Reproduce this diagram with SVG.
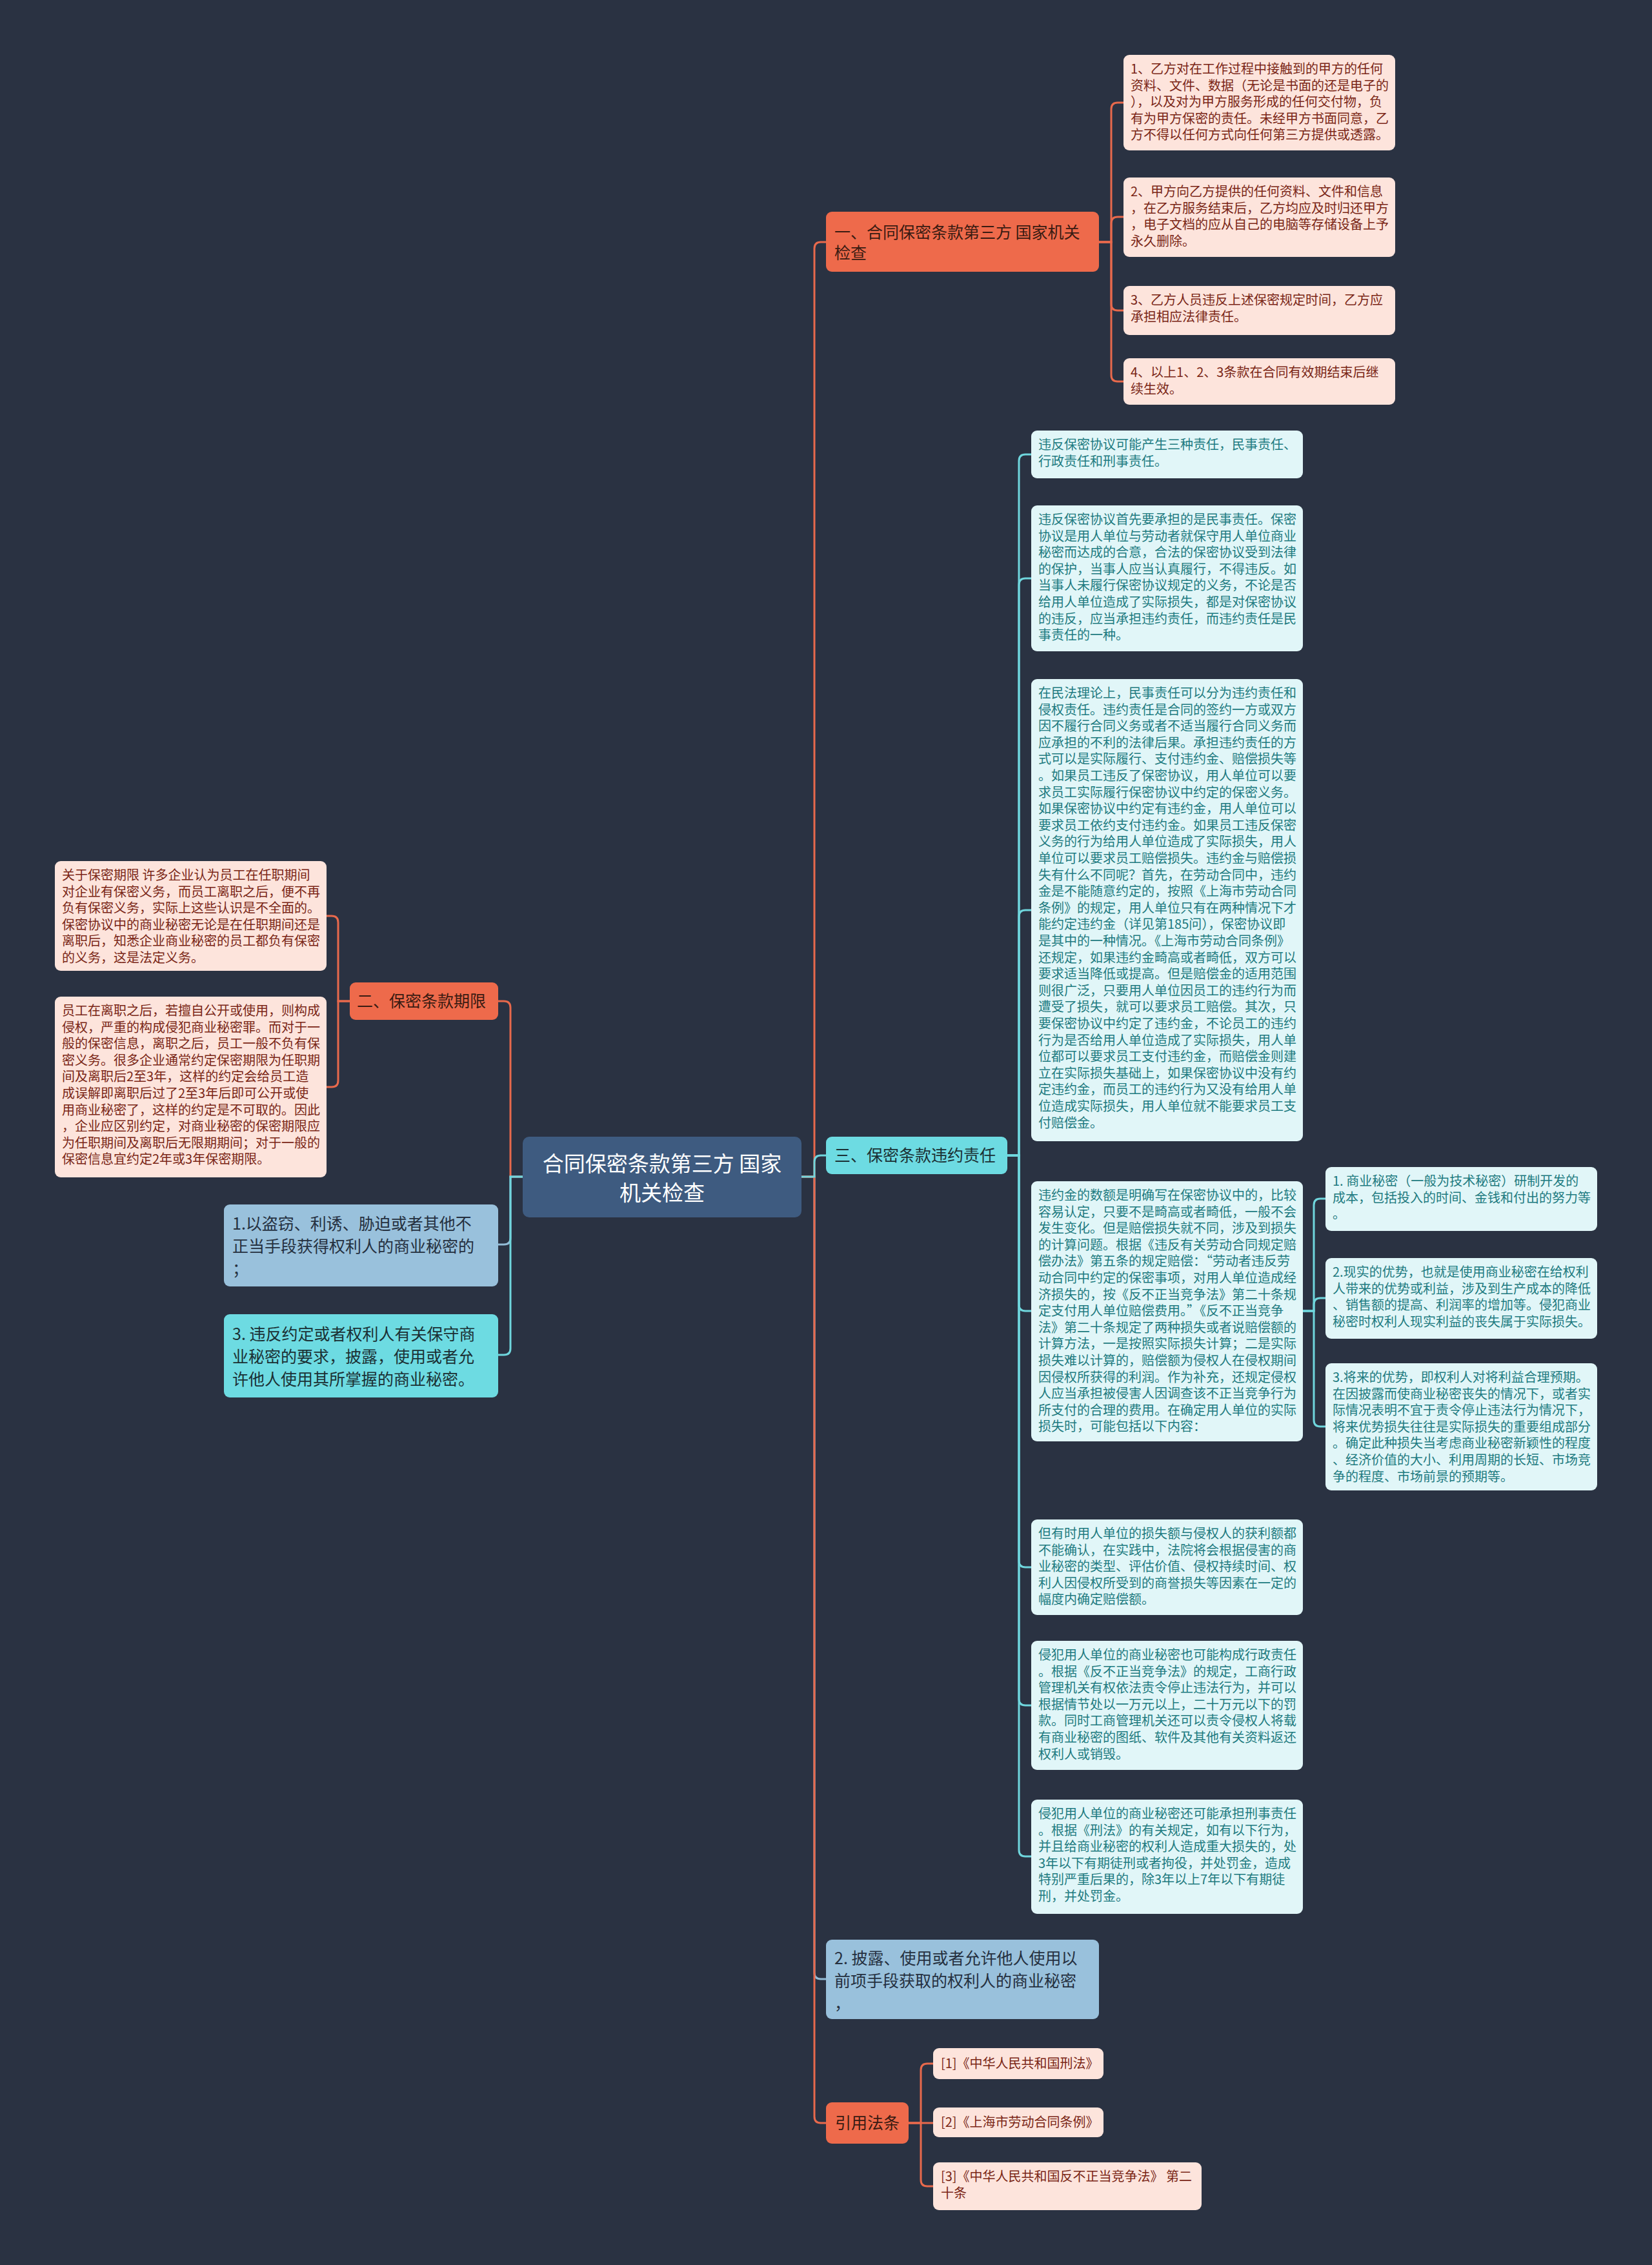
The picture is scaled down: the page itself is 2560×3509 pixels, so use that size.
<svg xmlns="http://www.w3.org/2000/svg" width="2560" height="3509" viewBox="0 0 2560 3509">
<style>
text{font-family:"Noto Sans CJK SC","Noto Sans",sans-serif}
.pk{fill:#fde4dc}
.cy{fill:#e1f6f8}
.pt{fill:#7a2616;font-size:20px}
.ct{fill:#1e7b80;font-size:20px}
.or{fill:#ee6a4b}
.cn{fill:#6ddbe2}
.lb{fill:#99c1dc}
.mt{font-size:25px;fill:#3a1b12}
.mc{font-size:25px;fill:#1b3034}
.mb{font-size:25px;fill:#25303f}
.c{fill:none;stroke-width:3}
.co{stroke:#e8694c}
.cc{stroke:#6fd6dd}
.cl{stroke:#93bcd6}
</style>
<rect width="2560" height="3509" fill="#2a3242"/>

<g id="connectors">
<path class="c cl" d="M1242 1823 H1262 V3056 Q1262 3066 1272 3066 H1280"/>
<path class="c co" d="M1242 1823 H1262 V3279 Q1262 3289 1272 3289 H1280"/>
<path class="c co" d="M1242 1823 H1262 V385 Q1262 375 1272 375 H1280"/>
<path class="c cc" d="M1242 1823 H1262 V1800 Q1262 1790 1272 1790 H1280"/>

<path class="c co" d="M1703 375 H1722 V169 Q1722 159 1732 159 H1741"/>
<path class="c co" d="M1703 375 H1722 V346 Q1722 336 1732 336 H1741"/>
<path class="c co" d="M1703 375 H1722 V471 Q1722 481 1732 481 H1741"/>
<path class="c co" d="M1703 375 H1722 V581 Q1722 591 1732 591 H1741"/>

<path class="c cc" d="M1561 1790 H1579 V714 Q1579 704 1589 704 H1598"/>
<path class="c cc" d="M1561 1790 H1579 V906 Q1579 896 1589 896 H1598"/>
<path class="c cc" d="M1561 1790 H1579 V1420 Q1579 1410 1589 1410 H1598"/>
<path class="c cc" d="M1561 1790 H1579 V2021 Q1579 2031 1589 2031 H1598"/>
<path class="c cc" d="M1561 1790 H1579 V2418 Q1579 2428 1589 2428 H1598"/>
<path class="c cc" d="M1561 1790 H1579 V2632 Q1579 2642 1589 2642 H1598"/>
<path class="c cc" d="M1561 1790 H1579 V2866 Q1579 2876 1589 2876 H1598"/>

<path class="c cc" d="M2019 2031 H2036 V1867 Q2036 1857 2046 1857 H2054"/>
<path class="c cc" d="M2019 2031 H2036 V2021 Q2036 2011 2046 2011 H2054"/>
<path class="c cc" d="M2019 2031 H2036 V2200 Q2036 2210 2046 2210 H2054"/>

<path class="c co" d="M810 1823 H791 V1561 Q791 1551 781 1551 H772"/>
<path class="c cl" d="M810 1823 H791 V1918 Q791 1928 781 1928 H772"/>
<path class="c cc" d="M810 1823 H791 V2089 Q791 2099 781 2099 H772"/>

<path class="c co" d="M542 1551 H524 V1429 Q524 1419 514 1419 H506"/>
<path class="c co" d="M542 1551 H524 V1674 Q524 1684 514 1684 H506"/>

<path class="c co" d="M1408 3289 H1427 V3207 Q1427 3197 1437 3197 H1446"/>
<path class="c co" d="M1408 3289 H1446"/>
<path class="c co" d="M1408 3289 H1427 V3377 Q1427 3387 1437 3387 H1446"/>
</g>

<g id="center">
<rect x="810" y="1761" width="432" height="125" rx="10" fill="#3e5b80"/>
<text x="1026" y="1815" text-anchor="middle" font-size="33" fill="#ffffff"><tspan x="1026">合同保密条款第三方 国家</tspan><tspan x="1026" dy="45">机关检查</tspan></text>
</g>

<g id="b1">
<rect class="or" x="1280" y="328" width="423" height="93" rx="9"/>
<text class="mt" x="1293" y="369"><tspan x="1293">一、合同保密条款第三方 国家机关</tspan><tspan x="1293" dy="32">检查</tspan></text>
</g>
<g id="r1">
<rect class="pk" x="1741" y="85" width="421" height="148" rx="9"/>
<text class="pt" x="1752" y="114"><tspan x="1752">1、乙方对在工作过程中接触到的甲方的任何</tspan><tspan x="1752" dy="25.6">资料、文件、数据（无论是书面的还是电子的</tspan><tspan x="1752" dy="25.6">），以及对为甲方服务形成的任何交付物，负</tspan><tspan x="1752" dy="25.6">有为甲方保密的责任。未经甲方书面同意，乙</tspan><tspan x="1752" dy="25.6">方不得以任何方式向任何第三方提供或透露。</tspan></text>
</g>
<g id="r2">
<rect class="pk" x="1741" y="275" width="421" height="123" rx="9"/>
<text class="pt" x="1752" y="304"><tspan x="1752">2、甲方向乙方提供的任何资料、文件和信息</tspan><tspan x="1752" dy="25.6">，在乙方服务结束后，乙方均应及时归还甲方</tspan><tspan x="1752" dy="25.6">，电子文档的应从自己的电脑等存储设备上予</tspan><tspan x="1752" dy="25.6">永久删除。</tspan></text>
</g>
<g id="r3">
<rect class="pk" x="1741" y="443" width="421" height="76" rx="9"/>
<text class="pt" x="1752" y="472"><tspan x="1752">3、乙方人员违反上述保密规定时间，乙方应</tspan><tspan x="1752" dy="25.6">承担相应法律责任。</tspan></text>
</g>
<g id="r4">
<rect class="pk" x="1741" y="555" width="421" height="72" rx="9"/>
<text class="pt" x="1752" y="584"><tspan x="1752">4、以上1、2、3条款在合同有效期结束后继</tspan><tspan x="1752" dy="25.6">续生效。</tspan></text>
</g>

<g id="b3">
<rect class="cn" x="1280" y="1761" width="281" height="58" rx="9"/>
<text class="mc" x="1293" y="1799">三、保密条款违约责任</text>
</g>
<g id="ca">
<rect class="cy" x="1598" y="667" width="421" height="74" rx="9"/>
<text class="ct" x="1609" y="696"><tspan x="1609">违反保密协议可能产生三种责任，民事责任、</tspan><tspan x="1609" dy="25.6">行政责任和刑事责任。</tspan></text>
</g>
<g id="cb">
<rect class="cy" x="1598" y="783" width="421" height="226" rx="9"/>
<text class="ct" x="1609" y="812"><tspan x="1609">违反保密协议首先要承担的是民事责任。保密</tspan><tspan x="1609" dy="25.6">协议是用人单位与劳动者就保守用人单位商业</tspan><tspan x="1609" dy="25.6">秘密而达成的合意，合法的保密协议受到法律</tspan><tspan x="1609" dy="25.6">的保护，当事人应当认真履行，不得违反。如</tspan><tspan x="1609" dy="25.6">当事人未履行保密协议规定的义务，不论是否</tspan><tspan x="1609" dy="25.6">给用人单位造成了实际损失，都是对保密协议</tspan><tspan x="1609" dy="25.6">的违反，应当承担违约责任，而违约责任是民</tspan><tspan x="1609" dy="25.6">事责任的一种。</tspan></text>
</g>
<g id="cc">
<rect class="cy" x="1598" y="1052" width="421" height="716" rx="9"/>
<text class="ct" x="1609" y="1081"><tspan x="1609">在民法理论上，民事责任可以分为违约责任和</tspan><tspan x="1609" dy="25.6">侵权责任。违约责任是合同的签约一方或双方</tspan><tspan x="1609" dy="25.6">因不履行合同义务或者不适当履行合同义务而</tspan><tspan x="1609" dy="25.6">应承担的不利的法律后果。承担违约责任的方</tspan><tspan x="1609" dy="25.6">式可以是实际履行、支付违约金、赔偿损失等</tspan><tspan x="1609" dy="25.6">。如果员工违反了保密协议，用人单位可以要</tspan><tspan x="1609" dy="25.6">求员工实际履行保密协议中约定的保密义务。</tspan><tspan x="1609" dy="25.6">如果保密协议中约定有违约金，用人单位可以</tspan><tspan x="1609" dy="25.6">要求员工依约支付违约金。如果员工违反保密</tspan><tspan x="1609" dy="25.6">义务的行为给用人单位造成了实际损失，用人</tspan><tspan x="1609" dy="25.6">单位可以要求员工赔偿损失。违约金与赔偿损</tspan><tspan x="1609" dy="25.6">失有什么不同呢？首先，在劳动合同中，违约</tspan><tspan x="1609" dy="25.6">金是不能随意约定的，按照《上海市劳动合同</tspan><tspan x="1609" dy="25.6">条例》的规定，用人单位只有在两种情况下才</tspan><tspan x="1609" dy="25.6">能约定违约金（详见第185问），保密协议即</tspan><tspan x="1609" dy="25.6">是其中的一种情况。《上海市劳动合同条例》</tspan><tspan x="1609" dy="25.6">还规定，如果违约金畸高或者畸低，双方可以</tspan><tspan x="1609" dy="25.6">要求适当降低或提高。但是赔偿金的适用范围</tspan><tspan x="1609" dy="25.6">则很广泛，只要用人单位因员工的违约行为而</tspan><tspan x="1609" dy="25.6">遭受了损失，就可以要求员工赔偿。其次，只</tspan><tspan x="1609" dy="25.6">要保密协议中约定了违约金，不论员工的违约</tspan><tspan x="1609" dy="25.6">行为是否给用人单位造成了实际损失，用人单</tspan><tspan x="1609" dy="25.6">位都可以要求员工支付违约金，而赔偿金则建</tspan><tspan x="1609" dy="25.6">立在实际损失基础上，如果保密协议中没有约</tspan><tspan x="1609" dy="25.6">定违约金，而员工的违约行为又没有给用人单</tspan><tspan x="1609" dy="25.6">位造成实际损失，用人单位就不能要求员工支</tspan><tspan x="1609" dy="25.6">付赔偿金。</tspan></text>
</g>
<g id="cd">
<rect class="cy" x="1598" y="1830" width="421" height="403" rx="9"/>
<text class="ct" x="1609" y="1859"><tspan x="1609">违约金的数额是明确写在保密协议中的，比较</tspan><tspan x="1609" dy="25.6">容易认定，只要不是畸高或者畸低，一般不会</tspan><tspan x="1609" dy="25.6">发生变化。但是赔偿损失就不同，涉及到损失</tspan><tspan x="1609" dy="25.6">的计算问题。根据《违反有关劳动合同规定赔</tspan><tspan x="1609" dy="25.6">偿办法》第五条的规定赔偿：“劳动者违反劳</tspan><tspan x="1609" dy="25.6">动合同中约定的保密事项，对用人单位造成经</tspan><tspan x="1609" dy="25.6">济损失的，按《反不正当竞争法》第二十条规</tspan><tspan x="1609" dy="25.6">定支付用人单位赔偿费用。”《反不正当竞争</tspan><tspan x="1609" dy="25.6">法》第二十条规定了两种损失或者说赔偿额的</tspan><tspan x="1609" dy="25.6">计算方法，一是按照实际损失计算；二是实际</tspan><tspan x="1609" dy="25.6">损失难以计算的，赔偿额为侵权人在侵权期间</tspan><tspan x="1609" dy="25.6">因侵权所获得的利润。作为补充，还规定侵权</tspan><tspan x="1609" dy="25.6">人应当承担被侵害人因调查该不正当竞争行为</tspan><tspan x="1609" dy="25.6">所支付的合理的费用。在确定用人单位的实际</tspan><tspan x="1609" dy="25.6">损失时，可能包括以下内容：</tspan></text>
</g>
<g id="d1">
<rect class="cy" x="2054" y="1808" width="421" height="99" rx="9"/>
<text class="ct" x="2065" y="1837"><tspan x="2065">1. 商业秘密（一般为技术秘密）研制开发的</tspan><tspan x="2065" dy="25.6">成本，包括投入的时间、金钱和付出的努力等</tspan><tspan x="2065" dy="25.6">。</tspan></text>
</g>
<g id="d2">
<rect class="cy" x="2054" y="1949" width="421" height="125" rx="9"/>
<text class="ct" x="2065" y="1978"><tspan x="2065">2.现实的优势，也就是使用商业秘密在给权利</tspan><tspan x="2065" dy="25.6">人带来的优势或利益，涉及到生产成本的降低</tspan><tspan x="2065" dy="25.6">、销售额的提高、利润率的增加等。侵犯商业</tspan><tspan x="2065" dy="25.6">秘密时权利人现实利益的丧失属于实际损失。</tspan></text>
</g>
<g id="d3">
<rect class="cy" x="2054" y="2112" width="421" height="197" rx="9"/>
<text class="ct" x="2065" y="2141"><tspan x="2065">3.将来的优势，即权利人对将利益合理预期。</tspan><tspan x="2065" dy="25.6">在因披露而使商业秘密丧失的情况下，或者实</tspan><tspan x="2065" dy="25.6">际情况表明不宜于责令停止违法行为情况下，</tspan><tspan x="2065" dy="25.6">将来优势损失往往是实际损失的重要组成部分</tspan><tspan x="2065" dy="25.6">。确定此种损失当考虑商业秘密新颖性的程度</tspan><tspan x="2065" dy="25.6">、经济价值的大小、利用周期的长短、市场竞</tspan><tspan x="2065" dy="25.6">争的程度、市场前景的预期等。</tspan></text>
</g>
<g id="ce">
<rect class="cy" x="1598" y="2354" width="421" height="148" rx="9"/>
<text class="ct" x="1609" y="2383"><tspan x="1609">但有时用人单位的损失额与侵权人的获利额都</tspan><tspan x="1609" dy="25.6">不能确认，在实践中，法院将会根据侵害的商</tspan><tspan x="1609" dy="25.6">业秘密的类型、评估价值、侵权持续时间、权</tspan><tspan x="1609" dy="25.6">利人因侵权所受到的商誉损失等因素在一定的</tspan><tspan x="1609" dy="25.6">幅度内确定赔偿额。</tspan></text>
</g>
<g id="cf">
<rect class="cy" x="1598" y="2542" width="421" height="200" rx="9"/>
<text class="ct" x="1609" y="2571"><tspan x="1609">侵犯用人单位的商业秘密也可能构成行政责任</tspan><tspan x="1609" dy="25.6">。根据《反不正当竞争法》的规定，工商行政</tspan><tspan x="1609" dy="25.6">管理机关有权依法责令停止违法行为，并可以</tspan><tspan x="1609" dy="25.6">根据情节处以一万元以上，二十万元以下的罚</tspan><tspan x="1609" dy="25.6">款。同时工商管理机关还可以责令侵权人将载</tspan><tspan x="1609" dy="25.6">有商业秘密的图纸、软件及其他有关资料返还</tspan><tspan x="1609" dy="25.6">权利人或销毁。</tspan></text>
</g>
<g id="cg">
<rect class="cy" x="1598" y="2788" width="421" height="177" rx="9"/>
<text class="ct" x="1609" y="2817"><tspan x="1609">侵犯用人单位的商业秘密还可能承担刑事责任</tspan><tspan x="1609" dy="25.6">。根据《刑法》的有关规定，如有以下行为，</tspan><tspan x="1609" dy="25.6">并且给商业秘密的权利人造成重大损失的，处</tspan><tspan x="1609" dy="25.6">3年以下有期徒刑或者拘役，并处罚金，造成</tspan><tspan x="1609" dy="25.6">特别严重后果的，除3年以上7年以下有期徒</tspan><tspan x="1609" dy="25.6">刑，并处罚金。</tspan></text>
</g>

<g id="b2r">
<rect class="lb" x="1280" y="3005" width="423" height="123" rx="9"/>
<text class="mb" x="1293" y="3043"><tspan x="1293">2. 披露、使用或者允许他人使用以</tspan><tspan x="1293" dy="35">前项手段获取的权利人的商业秘密</tspan><tspan x="1293" dy="35">，</tspan></text>
</g>

<g id="refs">
<rect class="or" x="1280" y="3257" width="128" height="64" rx="9"/>
<text class="mt" x="1344" y="3298" text-anchor="middle">引用法条</text>
</g>
<g id="ref1">
<rect class="pk" x="1446" y="3173" width="264" height="48" rx="9"/>
<text class="pt" x="1458" y="3204">[1]《中华人民共和国刑法》</text>
</g>
<g id="ref2">
<rect class="pk" x="1446" y="3265" width="264" height="46" rx="9"/>
<text class="pt" x="1458" y="3295">[2]《上海市劳动合同条例》</text>
</g>
<g id="ref3">
<rect class="pk" x="1446" y="3350" width="416" height="74" rx="9"/>
<text class="pt" x="1458" y="3379"><tspan x="1458">[3]《中华人民共和国反不正当竞争法》 第二</tspan><tspan x="1458" dy="25.6">十条</tspan></text>
</g>

<g id="b2">
<rect class="or" x="542" y="1522" width="230" height="58" rx="9"/>
<text class="mt" x="553" y="1560">二、保密条款期限</text>
</g>
<g id="l1">
<rect class="pk" x="85" y="1334" width="421" height="170" rx="9"/>
<text class="pt" x="96" y="1363"><tspan x="96">关于保密期限 许多企业认为员工在任职期间</tspan><tspan x="96" dy="25.6">对企业有保密义务，而员工离职之后，便不再</tspan><tspan x="96" dy="25.6">负有保密义务，实际上这些认识是不全面的。</tspan><tspan x="96" dy="25.6">保密协议中的商业秘密无论是在任职期间还是</tspan><tspan x="96" dy="25.6">离职后，知悉企业商业秘密的员工都负有保密</tspan><tspan x="96" dy="25.6">的义务，这是法定义务。</tspan></text>
</g>
<g id="l2">
<rect class="pk" x="85" y="1544" width="421" height="280" rx="9"/>
<text class="pt" x="96" y="1573"><tspan x="96">员工在离职之后，若擅自公开或使用，则构成</tspan><tspan x="96" dy="25.6">侵权，严重的构成侵犯商业秘密罪。而对于一</tspan><tspan x="96" dy="25.6">般的保密信息，离职之后，员工一般不负有保</tspan><tspan x="96" dy="25.6">密义务。很多企业通常约定保密期限为任职期</tspan><tspan x="96" dy="25.6">间及离职后2至3年，这样的约定会给员工造</tspan><tspan x="96" dy="25.6">成误解即离职后过了2至3年后即可公开或使</tspan><tspan x="96" dy="25.6">用商业秘密了，这样的约定是不可取的。因此</tspan><tspan x="96" dy="25.6">，企业应区别约定，对商业秘密的保密期限应</tspan><tspan x="96" dy="25.6">为任职期间及离职后无限期期间；对于一般的</tspan><tspan x="96" dy="25.6">保密信息宜约定2年或3年保密期限。</tspan></text>
</g>

<g id="l-1">
<rect class="lb" x="347" y="1866" width="425" height="127" rx="9"/>
<text class="mb" x="360" y="1905"><tspan x="360">1.以盗窃、利诱、胁迫或者其他不</tspan><tspan x="360" dy="35">正当手段获得权利人的商业秘密的</tspan><tspan x="360" dy="35">；</tspan></text>
</g>
<g id="l-3">
<rect class="cn" x="347" y="2036" width="425" height="129" rx="9"/>
<text class="mc" x="360" y="2076"><tspan x="360">3. 违反约定或者权利人有关保守商</tspan><tspan x="360" dy="35">业秘密的要求，披露，使用或者允</tspan><tspan x="360" dy="35">许他人使用其所掌握的商业秘密。</tspan></text>
</g>
</svg>
